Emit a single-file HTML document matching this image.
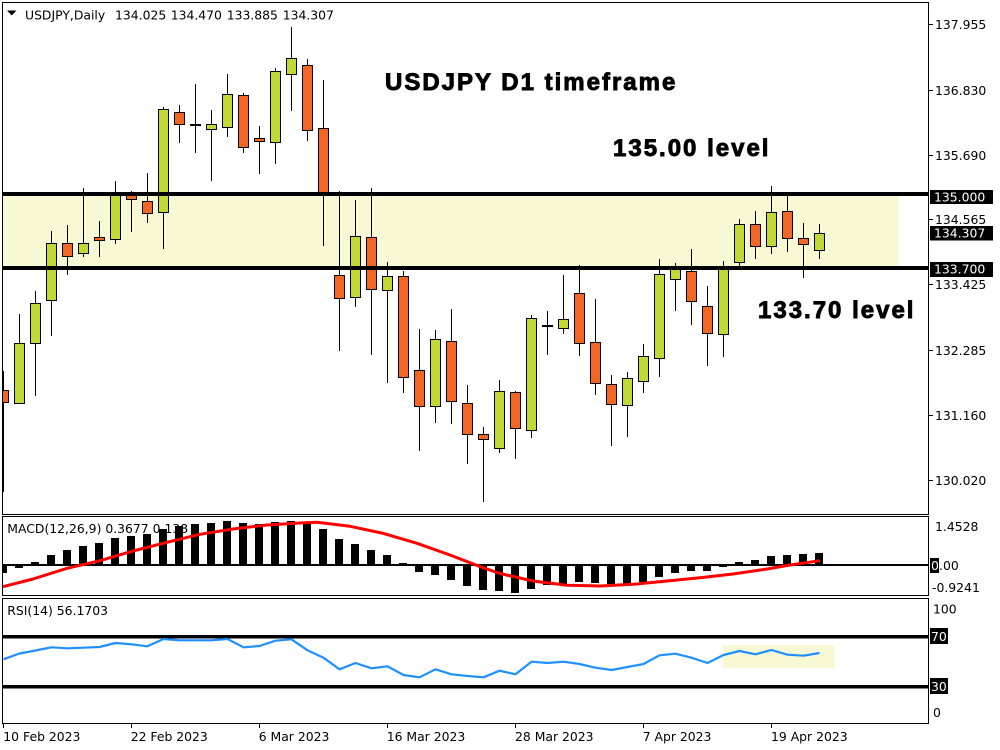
<!DOCTYPE html>
<html><head><meta charset="utf-8"><style>
html,body{margin:0;padding:0;background:#fff;width:1000px;height:750px;overflow:hidden}
svg{display:block}
.ax{font-family:"DejaVu Sans","Liberation Sans",sans-serif;font-size:12.4px;fill:#000}
.axw{font-family:"DejaVu Sans","Liberation Sans",sans-serif;font-size:12.4px;fill:#fff}
.big{font-family:"Liberation Sans",Arial,sans-serif;font-size:24px;font-weight:bold;letter-spacing:2px;fill:#000;stroke:#000;stroke-width:0.9}
.g{fill:#C2D935;stroke:#000;stroke-width:1}
.o{fill:#F26522;stroke:#000;stroke-width:1}
</style></head><body>
<svg width="1000" height="750" viewBox="0 0 1000 750" xmlns="http://www.w3.org/2000/svg">
<defs>
<clipPath id="cm"><rect x="3" y="3" width="925" height="511"/></clipPath>
<clipPath id="cd"><rect x="3" y="517" width="925" height="78"/></clipPath>
<clipPath id="cr"><rect x="3" y="599" width="925" height="124"/></clipPath>
</defs>
<rect width="1000" height="750" fill="#fff"/>

<!-- MAIN PANEL -->
<g clip-path="url(#cm)">
<rect x="3" y="194" width="896" height="74" fill="#F8F8D4"/>
<g shape-rendering="crispEdges" fill="#000">
<rect x="3" y="371" width="1" height="121"/>
<rect x="19" y="314" width="1" height="89"/>
<rect x="35" y="291" width="1" height="105"/>
<rect x="51" y="231" width="1" height="105"/>
<rect x="67" y="225" width="1" height="50"/>
<rect x="83" y="188" width="1" height="69"/>
<rect x="99" y="221" width="1" height="36"/>
<rect x="115" y="181" width="1" height="63"/>
<rect x="131" y="191" width="1" height="41"/>
<rect x="147" y="173" width="1" height="50"/>
<rect x="163" y="107" width="1" height="142"/>
<rect x="179" y="105" width="1" height="38"/>
<rect x="195" y="84" width="1" height="69"/>
<rect x="211" y="110" width="1" height="71"/>
<rect x="227" y="74" width="1" height="63"/>
<rect x="243" y="93" width="1" height="60"/>
<rect x="259" y="126" width="1" height="48"/>
<rect x="275" y="68" width="1" height="96"/>
<rect x="291" y="27" width="1" height="84"/>
<rect x="307" y="59" width="1" height="82"/>
<rect x="323" y="80" width="1" height="166"/>
<rect x="339" y="191" width="1" height="160"/>
<rect x="355" y="200" width="1" height="107"/>
<rect x="371" y="188" width="1" height="167"/>
<rect x="387" y="262" width="1" height="121"/>
<rect x="403" y="271" width="1" height="122"/>
<rect x="419" y="329" width="1" height="122"/>
<rect x="435" y="330" width="1" height="93"/>
<rect x="451" y="309" width="1" height="115"/>
<rect x="467" y="385" width="1" height="79"/>
<rect x="483" y="427" width="1" height="75"/>
<rect x="499" y="380" width="1" height="73"/>
<rect x="515" y="391" width="1" height="68"/>
<rect x="531" y="315" width="1" height="123"/>
<rect x="547" y="311" width="1" height="44"/>
<rect x="563" y="275" width="1" height="59"/>
<rect x="579" y="265" width="1" height="91"/>
<rect x="595" y="299" width="1" height="96"/>
<rect x="611" y="375" width="1" height="71"/>
<rect x="627" y="372" width="1" height="65"/>
<rect x="643" y="344" width="1" height="49"/>
<rect x="659" y="259" width="1" height="118"/>
<rect x="675" y="263" width="1" height="48"/>
<rect x="691" y="249" width="1" height="76"/>
<rect x="707" y="286" width="1" height="80"/>
<rect x="723" y="261" width="1" height="96"/>
<rect x="739" y="219" width="1" height="48"/>
<rect x="755" y="211" width="1" height="48"/>
<rect x="771" y="186" width="1" height="68"/>
<rect x="787" y="196" width="1" height="56"/>
<rect x="803" y="223" width="1" height="55"/>
<rect x="819" y="224" width="1" height="35"/>
</g>
<g shape-rendering="crispEdges">
<rect class="o" x="-1.5" y="390.5" width="10" height="12"/>
<rect class="g" x="14.5" y="343.5" width="10" height="60"/>
<rect class="g" x="30.5" y="303.5" width="10" height="40"/>
<rect class="g" x="46.5" y="243.5" width="10" height="57"/>
<rect class="o" x="62.5" y="243.5" width="10" height="13"/>
<rect class="g" x="78.5" y="243.5" width="10" height="10"/>
<rect class="o" x="94.5" y="237.5" width="10" height="3"/>
<rect class="g" x="110.5" y="195.5" width="10" height="44"/>
<rect class="o" x="126.5" y="195.5" width="10" height="4"/>
<rect class="o" x="142.5" y="201.5" width="10" height="12"/>
<rect class="g" x="158.5" y="109.5" width="10" height="103"/>
<rect class="o" x="174.5" y="112.5" width="10" height="12"/>
<rect fill="#000" x="190" y="124" width="11" height="2"/>
<rect class="g" x="206.5" y="124.5" width="10" height="5"/>
<rect class="g" x="222.5" y="94.5" width="10" height="33"/>
<rect class="o" x="238.5" y="95.5" width="10" height="52"/>
<rect class="o" x="254.5" y="138.5" width="10" height="3"/>
<rect class="g" x="270.5" y="71.5" width="10" height="71"/>
<rect class="g" x="286.5" y="58.5" width="10" height="16"/>
<rect class="o" x="302.5" y="65.5" width="10" height="65"/>
<rect class="o" x="318.5" y="128.5" width="10" height="64"/>
<rect class="o" x="334.5" y="275.5" width="10" height="23"/>
<rect class="g" x="350.5" y="236.5" width="10" height="61"/>
<rect class="o" x="366.5" y="237.5" width="10" height="52"/>
<rect class="g" x="382.5" y="276.5" width="10" height="14"/>
<rect class="o" x="398.5" y="276.5" width="10" height="101"/>
<rect class="o" x="414.5" y="370.5" width="10" height="36"/>
<rect class="g" x="430.5" y="339.5" width="10" height="67"/>
<rect class="o" x="446.5" y="341.5" width="10" height="60"/>
<rect class="o" x="462.5" y="403.5" width="10" height="31"/>
<rect class="o" x="478.5" y="434.5" width="10" height="5"/>
<rect class="g" x="494.5" y="391.5" width="10" height="57"/>
<rect class="o" x="510.5" y="392.5" width="10" height="36"/>
<rect class="g" x="526.5" y="318.5" width="10" height="112"/>
<rect fill="#000" x="542" y="325" width="11" height="2"/>
<rect class="g" x="558.5" y="319.5" width="10" height="9"/>
<rect class="o" x="574.5" y="293.5" width="10" height="50"/>
<rect class="o" x="590.5" y="342.5" width="10" height="41"/>
<rect class="o" x="606.5" y="384.5" width="10" height="20"/>
<rect class="g" x="622.5" y="378.5" width="10" height="27"/>
<rect class="g" x="638.5" y="356.5" width="10" height="25"/>
<rect class="g" x="654.5" y="274.5" width="10" height="84"/>
<rect class="g" x="670.5" y="268.5" width="10" height="11"/>
<rect class="o" x="686.5" y="271.5" width="10" height="30"/>
<rect class="o" x="702.5" y="306.5" width="10" height="27"/>
<rect class="g" x="718.5" y="268.5" width="10" height="66"/>
<rect class="g" x="734.5" y="224.5" width="10" height="38"/>
<rect class="o" x="750.5" y="224.5" width="10" height="22"/>
<rect class="g" x="766.5" y="212.5" width="10" height="34"/>
<rect class="o" x="782.5" y="211.5" width="10" height="27"/>
<rect class="o" x="798.5" y="238.5" width="10" height="6"/>
<rect class="g" x="814.5" y="233.5" width="10" height="17"/>
</g>
<rect x="3" y="192" width="926" height="4" fill="#000" shape-rendering="crispEdges"/>
<rect x="3" y="266" width="926" height="4" fill="#000" shape-rendering="crispEdges"/>
<text class="big" x="385" y="90">USDJPY D1 timeframe</text>
<text class="big" x="613" y="156">135.00 level</text>
<text class="big" x="758" y="318">133.70 level</text>
</g>
<polygon points="7,10.5 16.5,10.5 11.75,15.5" fill="#000"/>
<text class="ax" x="25" y="19.3">USDJPY,Daily</text>
<text class="ax" x="115" y="19.3">134.025</text>
<text class="ax" x="170.7" y="19.3">134.470</text>
<text class="ax" x="226.7" y="19.3">133.885</text>
<text class="ax" x="282.7" y="19.3">134.307</text>

<!-- MACD PANEL -->
<g clip-path="url(#cd)">
<text class="ax" x="7.3" y="533">MACD(12,26,9) 0.3677 0.138</text>
<rect x="3" y="564" width="926" height="2" fill="#000" shape-rendering="crispEdges"/>
<g fill="#000" shape-rendering="crispEdges">
<rect x="-1" y="565" width="8" height="8"/>
<rect x="15" y="565" width="8" height="3"/>
<rect x="31" y="562" width="8" height="3"/>
<rect x="47" y="555" width="8" height="10"/>
<rect x="63" y="550" width="8" height="15"/>
<rect x="79" y="546" width="8" height="19"/>
<rect x="95" y="543" width="8" height="22"/>
<rect x="111" y="538" width="8" height="27"/>
<rect x="127" y="536" width="8" height="29"/>
<rect x="143" y="534" width="8" height="31"/>
<rect x="159" y="529" width="8" height="36"/>
<rect x="175" y="526" width="8" height="39"/>
<rect x="191" y="524" width="8" height="41"/>
<rect x="207" y="523" width="8" height="42"/>
<rect x="223" y="521" width="8" height="44"/>
<rect x="239" y="523" width="8" height="42"/>
<rect x="255" y="524" width="8" height="41"/>
<rect x="271" y="522" width="8" height="43"/>
<rect x="287" y="521" width="8" height="44"/>
<rect x="303" y="524" width="8" height="41"/>
<rect x="319" y="529" width="8" height="36"/>
<rect x="335" y="539" width="8" height="26"/>
<rect x="351" y="544" width="8" height="21"/>
<rect x="367" y="550" width="8" height="15"/>
<rect x="383" y="555" width="8" height="10"/>
<rect x="399" y="563" width="8" height="2"/>
<rect x="415" y="565" width="8" height="7"/>
<rect x="431" y="565" width="8" height="10"/>
<rect x="447" y="565" width="8" height="15"/>
<rect x="463" y="565" width="8" height="21"/>
<rect x="479" y="565" width="8" height="25"/>
<rect x="495" y="565" width="8" height="26"/>
<rect x="511" y="565" width="8" height="28"/>
<rect x="527" y="565" width="8" height="24"/>
<rect x="543" y="565" width="8" height="20"/>
<rect x="559" y="565" width="8" height="20"/>
<rect x="575" y="565" width="8" height="17"/>
<rect x="591" y="565" width="8" height="18"/>
<rect x="607" y="565" width="8" height="19"/>
<rect x="623" y="565" width="8" height="19"/>
<rect x="639" y="565" width="8" height="17"/>
<rect x="655" y="565" width="8" height="12"/>
<rect x="671" y="565" width="8" height="8"/>
<rect x="687" y="565" width="8" height="6"/>
<rect x="703" y="565" width="8" height="6"/>
<rect x="719" y="565" width="8" height="2"/>
<rect x="735" y="562" width="8" height="3"/>
<rect x="751" y="560" width="8" height="5"/>
<rect x="767" y="556" width="8" height="9"/>
<rect x="783" y="555" width="8" height="10"/>
<rect x="799" y="554" width="8" height="11"/>
<rect x="815" y="553" width="8" height="12"/>
</g>
<polyline fill="none" stroke="#FF0000" stroke-width="3" stroke-linejoin="round" points="3,586.7 33,579 67,568.3 100,560.7 133,551 167,542.3 200,534.3 233,529 267,525 300,523 317,522.3 350,526.3 383,533.3 417,543.3 450,555 483,567.7 500,573.5 533,581 567,585.3 600,586 633,584.3 667,581 700,577.7 733,574 767,569 790,565 820,560.7"/>
</g>

<!-- RSI PANEL -->
<g clip-path="url(#cr)">
<text class="ax" x="7.3" y="615">RSI(14) 56.1703</text>
<rect x="723" y="645" width="112" height="23" fill="#F8F8D4"/>
<rect x="3" y="635" width="926" height="3.5" fill="#000"/>
<rect x="3" y="685" width="926" height="3.5" fill="#000"/>
<polyline fill="none" stroke="#1E90FF" stroke-width="2.2" stroke-linejoin="round" points="3.5,659.3 19.5,653.5 35.5,650.5 51.5,647.3 67.5,648.3 83.5,647.7 99.5,647 115.5,643 131.5,644.3 147.5,646.3 163.5,639 179.5,640.3 195.5,640.3 211.5,640.3 227.5,639 243.5,647.3 259.5,646 275.5,640.7 291.5,639.3 307.5,650.3 323.5,657.7 339.5,669.3 355.5,663 371.5,668.3 387.5,666.3 403.5,675 419.5,677.3 435.5,669.3 451.5,674.3 467.5,676 483.5,677.3 499.5,670.7 515.5,674.3 531.5,661.7 547.5,663 563.5,661.7 579.5,664 595.5,667.7 611.5,670 627.5,667 643.5,664 659.5,655.3 675.5,653.7 691.5,657.7 707.5,663 723.5,655 739.5,651 755.5,654.3 771.5,650 787.5,654.7 803.5,655.7 819.5,653"/>
</g>

<!-- PANEL BORDERS -->
<g fill="none" stroke="#000" stroke-width="1" shape-rendering="crispEdges">
<rect x="2.5" y="2.5" width="926" height="512"/>
<rect x="2.5" y="516.5" width="926" height="79"/>
<rect x="2.5" y="598.5" width="926" height="125"/>
</g>

<!-- RIGHT AXIS -->
<g fill="#000" shape-rendering="crispEdges">
<rect x="929" y="24" width="4" height="1"/>
<rect x="929" y="90" width="4" height="1"/>
<rect x="929" y="155" width="4" height="1"/>
<rect x="929" y="219" width="4" height="1"/>
<rect x="929" y="284" width="4" height="1"/>
<rect x="929" y="350" width="4" height="1"/>
<rect x="929" y="415" width="4" height="1"/>
<rect x="929" y="480" width="4" height="1"/>
</g>
<text class="ax" x="935" y="29">137.955</text>
<text class="ax" x="935" y="95">136.830</text>
<text class="ax" x="935" y="160">135.690</text>
<text class="ax" x="935" y="224">134.565</text>
<text class="ax" x="935" y="289">133.425</text>
<text class="ax" x="935" y="355">132.285</text>
<text class="ax" x="935" y="420">131.160</text>
<text class="ax" x="935" y="485">130.020</text>
<rect x="930" y="190" width="63" height="14" fill="#000"/>
<text class="axw" x="934" y="201.5">135.000</text>
<rect x="930" y="226" width="63" height="14.5" fill="#000"/>
<text class="axw" x="934" y="237.5">134.307</text>
<rect x="930" y="262" width="63" height="15" fill="#000"/>
<text class="axw" x="934" y="273.5">133.700</text>

<text class="ax" x="935" y="531">1.4528</text>
<rect x="930" y="558" width="9" height="15" fill="#000"/>
<text class="axw" x="931" y="570">0</text>
<text class="ax" x="939" y="570">.00</text>
<text class="ax" x="932" y="592">-0.9241</text>

<text class="ax" x="933" y="613.5">100</text>
<rect x="930" y="628" width="18" height="16" fill="#000"/>
<text class="axw" x="931" y="641">70</text>
<rect x="930" y="678" width="18" height="16" fill="#000"/>
<text class="axw" x="931" y="691">30</text>
<text class="ax" x="933" y="717">0</text>

<!-- X AXIS -->
<g fill="#000" shape-rendering="crispEdges">
<rect x="3" y="724" width="1" height="4"/>
<rect x="131" y="724" width="1" height="4"/>
<rect x="259" y="724" width="1" height="4"/>
<rect x="387" y="724" width="1" height="4"/>
<rect x="515" y="724" width="1" height="4"/>
<rect x="643" y="724" width="1" height="4"/>
<rect x="771" y="724" width="1" height="4"/>
</g>
<text class="ax" x="3.3" y="741">10 Feb 2023</text>
<text class="ax" x="130.7" y="741">22 Feb 2023</text>
<text class="ax" x="258.7" y="741">6 Mar 2023</text>
<text class="ax" x="386.7" y="741">16 Mar 2023</text>
<text class="ax" x="515" y="741">28 Mar 2023</text>
<text class="ax" x="642.7" y="741">7 Apr 2023</text>
<text class="ax" x="771" y="741">19 Apr 2023</text>
</svg>
</body></html>
